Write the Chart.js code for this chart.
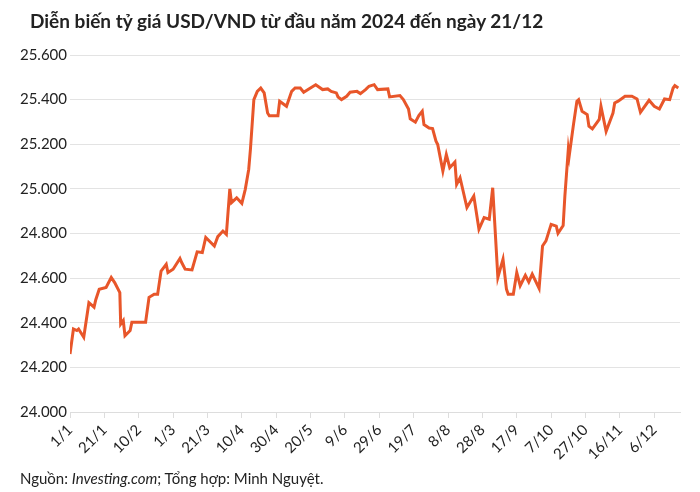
<!DOCTYPE html>
<html><head><meta charset="utf-8">
<script src="https://cdn.jsdelivr.net/npm/chart.js@4"></script>
<style>
body{margin:0;background:#fff;font-family:Lato,sans-serif}
#wrap{position:relative;width:700px;height:492px}
#title{position:absolute;left:30px;top:9px;font-size:19px;font-weight:bold;color:#222}
#src{position:absolute;left:20px;top:469px;font-size:15px;color:#222}
canvas{position:absolute;left:0;top:0}
</style></head><body>
<div id="wrap">
<canvas id="c" width="700" height="492"></canvas>
<div id="title">Diễn biến tỷ giá USD/VND từ đầu năm 2024 đến ngày 21/12</div>
<div id="src">Nguồn: <i>Investing.com</i>; Tổng hợp: Minh Nguyệt.</div>
</div>
<script>
// ngày tính từ 1/1
const days = [0,2,4,5,8,11,14,15,17,21,24,26,29,29.5,31,32,35,36,44,46,49,51,53,56,57,60,64,65,67,71,74,77,79,84,86,89,91,93,94,97,100,102,104,105,107,109,111,113,115,116,121,122,126,129,131,134,136,139,143,147,150,152,155,156,158,161,163,167,169,172,
  174,177,179,185,186,192,194,197,198,201,203,205,206,209,211,213,214,217,219,221,224,225,227,231,235,238,241,244,246,249,252,254,255,258,260,262,265,267,269,273,275,277,280,283,284,287,288,290,290.5,293,295,296,298,301,302,304,308,309,312,316,317,319,323,327,330,332,337,340,343,346,349,351,352,354];
const rates = [24260,24372,24365,24372,24335,24490,24470,24503,24550,24558,24603,24580,24535,24394,24410,24342,24365,24402,24402,24514,24528,24528,24632,24662,24625,24640,24688,24670,24640,24637,24718,24715,24782,24744,24786,24811,24796,25000,24938,24960,24935,24998,25087,25177,25400,25437,25452,25430,25340,25328,25328,25393,25370,25437,25452,25452,25433,25448,25467,25445,25448,25437,25430,25412,25400,25415,25433,25437,25427,25445,
  25460,25467,25445,25448,25412,25418,25400,25358,25314,25299,25329,25348,25288,25273,25270,25214,25199,25080,25154,25095,25120,25020,25050,24916,24968,24819,24871,24864,25005,24603,24685,24551,24528,24528,24625,24566,24613,24583,24618,24554,24744,24767,24841,24833,24801,24836,24968,25177,25147,25288,25393,25400,25348,25333,25281,25269,25311,25370,25258,25340,25385,25393,25415,25415,25403,25343,25397,25370,25358,25403,25400,25452,25463,25452];
const tickLabels = ['1/1','21/1','10/2','1/3','21/3','10/4','30/4','20/5','9/6','29/6','19/7','8/8','28/8','17/9','7/10','27/10','16/11','6/12'];

const points = days.map((d, i) => ({x: d, y: rates[i]}));
const fmt = v => String(v).replace(/\B(?=(\d{3})+(?!\d))/g, '.');

new Chart(document.getElementById('c'), {
  type: 'line',
  data: {datasets: [{data: points, borderColor: '#e8562a', borderWidth: 3, pointRadius: 0, tension: 0}]},
  options: {
    responsive: false, animation: false,
    layout: {padding: {top: 55, right: 20, left: 0, bottom: 0}},
    plugins: {legend: {display: false}, tooltip: {enabled: false}},
    scales: {
      x: {
        type: 'linear', min: 0, max: 355,
        afterBuildTicks: s => { s.ticks = tickLabels.map((t, i) => ({value: i * 20})); },
        afterFit: s => { s.height = 80; },
        ticks: {minRotation: 45, maxRotation: 45, color: '#222', font: {family: 'Lato', size: 15},
          callback: (v) => tickLabels[Math.round(v / 20)]},
        grid: {drawOnChartArea: false, tickLength: 6, color: '#ddd'},
        border: {color: '#ddd'}
      },
      y: {
        min: 24000, max: 25600,
        afterFit: s => { s.width = 70; },
        ticks: {stepSize: 200, color: '#222', font: {family: 'Lato', size: 15}, callback: v => fmt(v)},
        grid: {color: '#e3e3e3', drawTicks: false, tickLength: 10},
        border: {display: false}
      }
    }
  }
});
</script>
</body></html>
